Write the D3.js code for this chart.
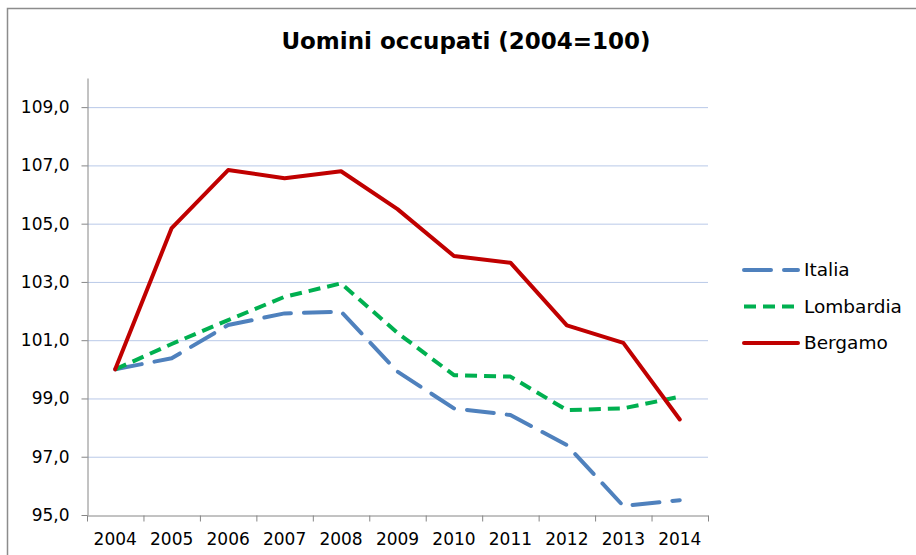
<!DOCTYPE html>
<html>
<head>
<meta charset="utf-8">
<script src="https://cdn.jsdelivr.net/npm/d3@7"></script>
<style>
  body { margin: 0; background: #fff; }
  svg { display: block; font-family: "DejaVu Sans", Verdana, sans-serif; }
</style>
</head>
<body>
<svg id="chart" width="916" height="555"></svg>
<script>
const years = ['2004', '2005', '2006', '2007', '2008', '2009', '2010', '2011', '2012', '2013', '2014'];
const italia = [100, 100.38, 101.52, 101.92, 101.98, 99.92, 98.66, 98.43, 97.4, 95.31, 95.51];
const lombardia = [100, 100.87, 101.69, 102.49, 102.95, 101.25, 99.8, 99.75, 98.6, 98.66, 99.06];
const bergamo = [100, 104.85, 106.84, 106.56, 106.8, 105.5, 103.89, 103.66, 101.51, 100.91, 98.28];
const yTicks = [95, 97, 99, 101, 103, 105, 107, 109];

const series = [
  { name: 'Italia', values: italia, color: '#4F81BD', dash: '27,13', cap: 'round' },
  { name: 'Lombardia', values: lombardia, color: '#00B050', dash: '12,7', cap: 'butt' },
  { name: 'Bergamo', values: bergamo, color: '#C00000', dash: null, cap: 'round' }
];

const svg = d3.select('#chart');
const plotLeft = 87, plotRight = 708, plotTop = 78, plotBottom = 515;

// outer frame of the chart
svg.append('rect')
  .attr('x', 7.5).attr('y', 8.5)
  .attr('width', 940).attr('height', 600)
  .attr('fill', 'none')
  .attr('stroke', '#8c8c8c')
  .attr('stroke-width', 1.5);

const x = d3.scaleBand().domain(years).range([plotLeft, plotRight]).padding(0);
const y = d3.scaleLinear().domain([95, 110]).range([plotBottom, plotTop]);
const it = d3.formatLocale({ decimal: ',', thousands: '.', grouping: [3], currency: ['€', ''] });
const fmt = it.format('.1f');

// gridlines
svg.append('g')
  .selectAll('line')
  .data(yTicks.slice(1))
  .join('line')
  .attr('x1', plotLeft).attr('x2', plotRight)
  .attr('y1', d => y(d) + 0.5).attr('y2', d => y(d) + 0.5)
  .attr('stroke', '#B9C9E8')
  .attr('stroke-width', 1);

// y axis
const yAxis = svg.append('g')
  .attr('transform', `translate(${plotLeft + 0.5},0)`)
  .call(d3.axisLeft(y).tickValues(yTicks).tickFormat(fmt).tickSize(6).tickSizeOuter(0));
yAxis.select('.domain').attr('stroke', '#868686');
yAxis.selectAll('.tick line').attr('stroke', '#868686');
yAxis.selectAll('.tick text')
  .attr('x', -18)
  .style('font-size', '17px')
  .style('font-family', '"DejaVu Sans", Verdana, sans-serif')
  .attr('fill', '#000');

// x axis
const xAxis = svg.append('g')
  .attr('transform', `translate(0,${plotBottom + 0.5})`)
  .call(d3.axisBottom(x).tickSize(0).tickSizeOuter(0));
xAxis.select('.domain').attr('stroke', '#868686');
xAxis.selectAll('.tick text')
  .attr('dy', '1.55em')
  .style('font-size', '17px')
  .style('font-family', '"DejaVu Sans", Verdana, sans-serif')
  .attr('fill', '#000');
xAxis.selectAll('.edge')
  .data(years.map(d => x(d)).concat([plotRight]))
  .join('line')
  .attr('class', 'edge')
  .attr('x1', d => d + 0.5).attr('x2', d => d + 0.5)
  .attr('y1', 0).attr('y2', 6)
  .attr('stroke', '#868686');

// lines
const line = d3.line()
  .x((d, i) => x(years[i]) + x.bandwidth() / 2)
  .y(d => y(d));

svg.append('g')
  .selectAll('path')
  .data(series)
  .join('path')
  .attr('d', d => line(d.values))
  .attr('fill', 'none')
  .attr('stroke', d => d.color)
  .attr('stroke-width', 4)
  .attr('stroke-linejoin', 'round')
  .attr('stroke-linecap', d => d.cap)
  .attr('stroke-dasharray', d => d.dash);

// title
svg.append('text')
  .attr('x', 466).attr('y', 49)
  .attr('text-anchor', 'middle')
  .style('font-size', '23px')
  .style('font-weight', 'bold')
  .text('Uomini occupati (2004=100)');

// legend
const legend = svg.append('g')
  .selectAll('g')
  .data(series)
  .join('g')
  .attr('transform', (d, i) => `translate(742,${270 + i * 36.5})`);
legend.append('line')
  .attr('x1', 2).attr('x2', 56)
  .attr('stroke', d => d.color)
  .attr('stroke-width', 4)
  .attr('stroke-linecap', d => d.cap)
  .attr('stroke-dasharray', d => d.dash);
legend.append('text')
  .attr('x', 62).attr('dy', '0.35em')
  .style('font-size', '18.5px')
  .text(d => d.name);
</script>
</body>
</html>
